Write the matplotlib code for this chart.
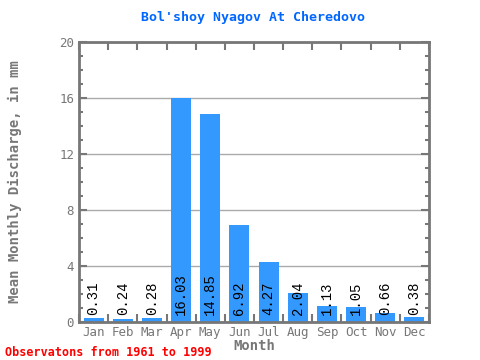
import numpy as np
import matplotlib
matplotlib.use("Agg")
import matplotlib.pyplot as plt
from matplotlib.ticker import MultipleLocator

months = ["Jan", "Feb", "Mar", "Apr", "May", "Jun", "Jul", "Aug", "Sep", "Oct", "Nov", "Dec"]
discharge = [0.31, 0.24, 0.28, 16.03, 14.85, 6.92, 4.27, 2.04, 1.13, 1.05, 0.66, 0.38]

gray = "#777777"
mono = "DejaVu Sans Mono"

fig = plt.figure(figsize=(4.8, 3.6), dpi=100)
ax = fig.add_axes([79 / 480, 38 / 360, 350 / 480, 280 / 360])

x = np.arange(len(months))
ax.bar(x, discharge, width=0.69, color="#3399ff", zorder=2)
for xi, v in zip(x, discharge):
    ax.text(xi, 0.5, "%.2f" % v, rotation=90, ha="center", va="bottom",
            fontsize=10, family="Liberation Mono", color="black", zorder=3)

ax.set_xlim(-0.5, 11.5)
ax.set_ylim(0, 20)
ax.set_yticks([0, 4, 8, 12, 16, 20])
ax.yaxis.set_minor_locator(MultipleLocator(1))
ax.set_xticks(x)
ax.set_xticklabels(months)
ax.set_xticks(np.arange(-0.5, 12, 1), minor=True)
ax.grid(axis="y", color="#aaaaaa", linewidth=1, zorder=1)

ax.tick_params(axis="y", which="major", direction="in", length=6, width=1.5,
               color=gray, labelcolor=gray, labelsize=9, right=True)
ax.tick_params(axis="y", which="minor", direction="in", length=3, width=1.5,
               color=gray, right=True)
ax.tick_params(axis="x", which="major", length=0, labelcolor=gray, labelsize=9, pad=3)
ax.tick_params(axis="x", which="minor", direction="in", length=6, width=1.5,
               color=gray, top=True)
for lbl in ax.get_xticklabels() + ax.get_yticklabels():
    lbl.set_family(mono)

for s in ax.spines.values():
    s.set_color(gray)
    s.set_linewidth(2)

ax.set_xlabel("Month", family=mono, fontsize=10, fontweight="bold", color=gray, labelpad=0)
ax.set_ylabel("Mean Monthly Discharge, in mm", family=mono, fontsize=10,
              fontweight="bold", color=gray, labelpad=27)
fig.text(253 / 480, 1 - 18 / 360, "Bol'shoy Nyagov At Cheredovo", ha="center", va="center",
         family=mono, fontsize=9.5, fontweight="bold", color="#0066ff")
fig.text(5 / 480, 1 - 352 / 360, "Observatons from 1961 to 1999", ha="left", va="center",
         family=mono, fontsize=8.5, fontweight="bold", color="red")

fig.savefig("out.png", dpi=100)
